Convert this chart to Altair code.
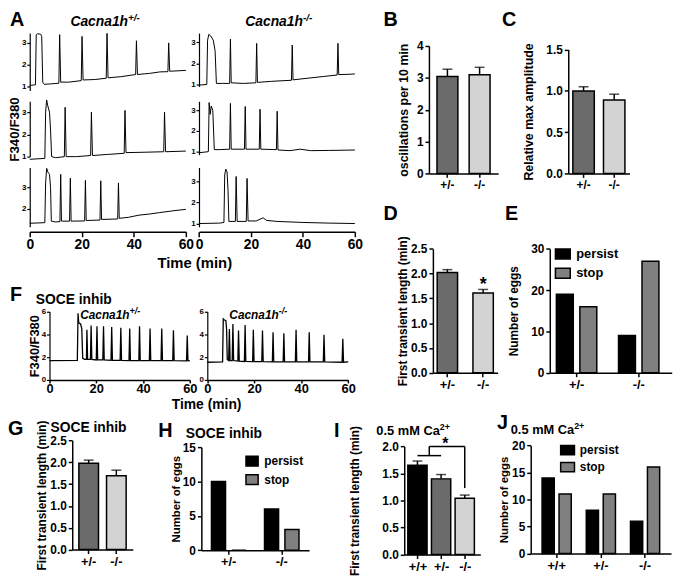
import altair as alt
import pandas as pd

FONT = "Liberation Sans"
BLACK = "black"
DARK = "#6b6b6b"
LIGHT = "#d3d3d3"
STOPC = "#808080"
W_VIEW, H_VIEW = 673, 568

TIME_TICKS = [0, 20, 40, 60]
GENO2 = ["+/-", "-/-"]
GENO3 = ["+/+", "+/-", "-/-"]
OUTCOMES = ["persist", "stop"]

# ---------- A: F340/F380 traces, [time (min), ratio] ----------
A_HET_1 = [[0, 1.05], [2.2, 1.08], [2.5, 3.38], [3.0, 3.42], [4.2, 3.4], [4.6, 3.3], [5.0, 1.2], [5.6, 1.1],
           [8, 1.12], [11.2, 1.15], [11.5, 3.38], [11.9, 1.2], [15, 1.2], [19.8, 1.27], [20.1, 3.3], [20.5, 1.3],
           [25, 1.32], [29.4, 1.38], [29.7, 3.44], [30.1, 1.4], [35, 1.45], [40.7, 1.55], [41.0, 3.1], [41.4, 1.55],
           [44, 1.58], [46, 1.6], [50, 1.67], [53.1, 1.68], [53.4, 3.0], [53.8, 1.7], [57, 1.72], [60, 1.74]]
A_HET_2 = [[0, 0.88], [5.8, 0.92], [6.1, 3.0], [6.5, 3.55], [6.9, 3.3], [7.6, 3.0], [8.0, 2.2], [8.4, 1.0],
           [10, 0.95], [13.3, 1.0], [13.6, 3.22], [14.0, 1.0], [18, 1.0], [23.4, 1.05], [23.7, 3.0], [24.1, 1.05],
           [30, 1.1], [36.3, 1.15], [36.6, 3.08], [37.0, 1.18], [45, 1.2], [51.5, 1.22], [51.8, 3.0], [52.2, 1.22],
           [60, 1.25]]
A_HET_3 = [[0, 1.32], [5.8, 1.35], [6.1, 3.2], [6.5, 3.88], [7.0, 3.7], [7.6, 3.6], [8.0, 3.0], [8.3, 1.42],
           [10, 1.38], [11.6, 1.4], [11.9, 3.6], [12.2, 1.42], [15.3, 1.42], [15.6, 3.42], [15.9, 1.42],
           [21.1, 1.43], [21.4, 3.32], [21.7, 1.45], [27.0, 1.47], [27.3, 3.3], [27.6, 1.5], [33.8, 1.52],
           [34.1, 3.2], [34.4, 1.55], [38, 1.6], [42, 1.7], [46, 1.75], [50, 1.82], [55, 1.9], [60, 1.97]]
A_KO_1 = [[0, 0.97], [3.0, 1.0], [3.3, 3.1], [3.8, 3.38], [4.5, 3.3], [5.5, 3.1], [6.2, 2.6], [6.7, 1.05],
          [9, 1.05], [11.8, 1.05], [12.1, 3.15], [12.4, 1.08], [17, 1.05], [21.9, 1.08], [22.2, 2.95], [22.5, 1.1],
          [28, 1.15], [35.6, 1.2], [35.9, 2.87], [36.2, 1.22], [42, 1.3], [48, 1.38], [53.2, 1.45], [53.5, 2.95],
          [53.8, 1.47], [57, 1.48], [60, 1.5]]
A_KO_2 = [[0, 0.95], [3.6, 1.0], [3.9, 3.37], [4.3, 2.8], [4.7, 3.2], [5.3, 3.0], [5.9, 1.1], [8, 1.1],
          [11.8, 1.12], [12.1, 3.33], [12.4, 1.12], [17.5, 1.12], [17.8, 3.18], [18.1, 1.12], [23.2, 1.12],
          [23.5, 3.05], [23.8, 1.12], [29.8, 1.1], [30.1, 2.95], [30.4, 1.08], [35, 1.05], [39, 1.12], [43, 1.05],
          [50, 1.06], [60, 1.08]]
A_KO_3 = [[0, 1.0], [8, 1.02], [9.6, 1.05], [9.9, 3.3], [10.3, 3.58], [10.8, 3.45], [11.2, 2.5], [11.5, 1.1],
          [14.0, 1.1], [14.3, 3.23], [14.7, 1.1], [18.2, 1.1], [18.5, 3.14], [18.9, 1.12], [22, 1.12],
          [24.7, 1.27], [26, 1.15], [30, 1.1], [40, 1.05], [50, 1.02], [60, 1.0]]

# ---------- F: SOCE inhibition traces ----------
F_HET = [[0, 1.7], [11.9, 1.72], [12.2, 5.85], [12.5, 5.0], [13.3, 4.9], [13.8, 4.5], [14.2, 1.9], [15.0, 1.8],
         [15.8, 1.8], [16.0, 4.4], [16.3, 1.8], [17.5, 1.8], [17.8, 4.78], [18.1, 1.8], [20.0, 1.75], [20.3, 4.7],
         [20.6, 1.75], [22.8, 1.75], [23.1, 4.7], [23.4, 1.75], [26.3, 1.72], [26.6, 4.64], [26.9, 1.72],
         [30.2, 1.72], [30.5, 4.58], [30.8, 1.72], [34.0, 1.7], [34.3, 4.5], [34.6, 1.7], [38.2, 1.7], [38.5, 4.7],
         [38.8, 1.7], [42.7, 1.7], [43.0, 4.5], [43.3, 1.7], [47.7, 1.7], [48.0, 4.5], [48.3, 1.7], [52.7, 1.7],
         [53.0, 4.35], [53.3, 1.7], [58.6, 1.68], [58.9, 3.9], [59.2, 1.68], [60, 1.7]]
F_KO = [[0, 1.55], [6.5, 1.58], [6.8, 5.34], [7.3, 5.25], [7.9, 5.2], [8.2, 4.5], [8.5, 1.8], [9.1, 1.7],
        [9.4, 4.47], [9.7, 1.7], [10.6, 1.7], [10.9, 4.9], [11.2, 1.7], [13.0, 1.65], [13.3, 4.33], [13.6, 1.65],
        [15.8, 1.62], [16.1, 4.82], [16.4, 1.62], [19.3, 1.6], [19.6, 4.39], [19.9, 1.6], [23.2, 1.6], [23.5, 4.33],
        [23.8, 1.6], [27.7, 1.58], [28.0, 4.18], [28.3, 1.58], [32.3, 1.58], [32.6, 4.1], [32.9, 1.58],
        [37.5, 1.58], [37.8, 4.39], [38.1, 1.58], [43.1, 1.58], [43.4, 4.18], [43.7, 1.58], [49.4, 1.58],
        [49.7, 3.95], [50.0, 1.58], [57.4, 1.55], [57.7, 3.6], [58.0, 1.55], [60, 1.58]]

# ---------- bar panels: mean and mean+SEM ----------
B_MEAN = [3.04, 3.10]
B_TOP = [3.27, 3.33]
C_MEAN = [1.00, 0.89]
C_TOP = [1.05, 0.96]
D_MEAN = [2.02, 1.61]
D_TOP = [2.08, 1.68]
D_STAR = ["-/-", 1.66]
E_PERSIST = [19, 9]
E_STOP = [16, 27]
G_MEAN = [1.98, 1.69]
G_TOP = [2.05, 1.82]
H_PERSIST = [10, 6]
H_STOP = [0, 3]
I_MEAN = [1.65, 1.40, 1.04]
I_TOP = [1.73, 1.48, 1.10]
I_BRACKET_X = [0, 0.5, 0.5, 2]
I_BRACKET_X2 = [1, 0.5, 2, 2]
I_BRACKET_Y = [1.83, 1.83, 2.0, 2.0]
I_BRACKET_Y2 = [1.83, 2.0, 2.0, 1.23]
I_STAR = [1.18, 1.96]
J_PERSIST = [14, 8, 6]
J_STOP = [11, 11, 16]


# ---------------- helpers ----------------
def note(text, X, Y, size, align="left", italic=False):
    return alt.Chart(pd.DataFrame({"s": [text]})).mark_text(
        align=align, baseline="alphabetic", fontSize=size, fontWeight="bold",
        fontStyle="italic" if italic else "normal", color=BLACK, font=FONT
    ).encode(x=alt.value(X), y=alt.value(Y), text="s:N")


def left_axis(x0, values, title=None, tsize=12, tpad=1, lsize=12, fmt=None, tick=4, width=1.5, lpad=2):
    kw = dict(orient="left", offset=-x0, values=values, title=title, titleFontSize=tsize, titlePadding=tpad,
              titleFontWeight="bold", labelFontSize=lsize, labelFontWeight="bold", tickSize=tick,
              tickWidth=width, domainWidth=width, labelPadding=lpad, grid=False)
    if fmt:
        kw["format"] = fmt
    return alt.Axis(**kw)


def bottom_axis(y_line, values=None, lsize=13, tick=4, lpad=2, expr=None):
    kw = dict(orient="bottom", offset=y_line - H_VIEW, title=None, labelAngle=0, labelFontSize=lsize,
              labelFontWeight="bold", tickSize=tick, tickWidth=1.5, domainWidth=1.5, labelPadding=lpad,
              grid=False, labelFlush=False, labelOverlap=False)
    if values is not None:
        kw["values"] = values
    if expr:
        kw["labelExpr"] = expr
    return alt.Axis(**kw)


def trace(pts, xr, yr, ydom, yticks, x_line=None, ytitle=None, tsize=14, tpad=1, lw=1.0, xtick=5, xpad=1,
          xsize=14):
    df = pd.DataFrame(pts, columns=["t", "r"])
    xa = bottom_axis(x_line, TIME_TICKS, lsize=xsize, tick=xtick, lpad=xpad) if x_line is not None else None
    ya = left_axis(xr[0], yticks, ytitle, tsize, tpad, lsize=8, tick=3, width=1.2, lpad=1, fmt="d")
    return alt.Chart(df).mark_line(color=BLACK, strokeWidth=lw).encode(
        x=alt.X("t:Q", scale=alt.Scale(domain=[0, 60], range=list(xr), nice=False), axis=xa),
        y=alt.Y("r:Q", scale=alt.Scale(domain=ydom, range=[yr[1], yr[0]], nice=False, zero=False), axis=ya))


def bar_panel(cats, means, tops, colors, xr, yr, ydom, yticks, fmt, title, pad, pi, po, tsize=12, xl=13):
    df = pd.DataFrame({"g": cats, "m": means, "e": tops})
    bars = alt.Chart(df).mark_bar(stroke=BLACK, strokeWidth=1.5).encode(
        x=alt.X("g:N", sort=cats, scale=alt.Scale(range=list(xr), paddingInner=pi, paddingOuter=po),
                axis=bottom_axis(yr[1], lsize=xl)),
        y=alt.Y("m:Q", scale=alt.Scale(domain=ydom, range=[yr[1], yr[0]], nice=False),
                axis=left_axis(xr[0], yticks, title, tsize, pad, fmt=fmt)),
        color=alt.Color("g:N", scale=alt.Scale(domain=cats, range=colors), legend=None))
    err = alt.Chart(df).mark_rule(color=BLACK, strokeWidth=1.5).encode(
        x=alt.X("g:N", sort=cats), y="m:Q", y2="e:Q")
    cap = alt.Chart(df).mark_tick(color=BLACK, thickness=1.5, size=10, orient="horizontal").encode(
        x=alt.X("g:N", sort=cats), y="e:Q")
    return [bars, err, cap]


def legend(lx, ly, wsym, hsym, fs, offset, rowpad):
    k = hsym / wsym
    path = f"M-1,-{k:.3f}H1V{k:.3f}H-1Z"
    return alt.Legend(title=None, orient="none", legendX=lx, legendY=ly, direction="vertical",
                      symbolType=path, symbolSize=wsym * wsym, symbolStrokeColor=BLACK, symbolStrokeWidth=1.5,
                      symbolOpacity=1, labelFontSize=fs, labelFontWeight="bold", labelColor=BLACK,
                      labelFont=FONT, labelOffset=offset, rowPadding=rowpad, padding=0)


def grouped_panel(groups, persist, stop, xr, yr, ydom, yticks, title, pad, pi, po, align, spi, leg, tsize=12):
    n = len(groups)
    df = pd.DataFrame({"g": groups + groups,
                       "o": [OUTCOMES[0]] * n + [OUTCOMES[1]] * n,
                       "n": persist + stop})
    return alt.Chart(df).mark_bar(stroke=BLACK, strokeWidth=1.5).encode(
        x=alt.X("g:N", sort=groups,
                scale=alt.Scale(range=list(xr), paddingInner=pi, paddingOuter=po, align=align),
                axis=bottom_axis(yr[1])),
        xOffset=alt.XOffset("o:N", sort=OUTCOMES, scale=alt.Scale(paddingInner=spi, paddingOuter=0)),
        y=alt.Y("n:Q", scale=alt.Scale(domain=ydom, range=[yr[1], yr[0]], nice=False), stack=None,
                axis=left_axis(xr[0], yticks, title, tsize, pad, fmt="d")),
        color=alt.Color("o:N", scale=alt.Scale(domain=OUTCOMES, range=[BLACK, STOPC]), legend=leg))


panels = []

# ---------------- A ----------------
XL, XR = (22, 180), (193.3, 351)
A_X_LINE = 223
panels += [
    trace(A_HET_1, XL, (22, 80), [0.82, 3.45], [1, 2, 3]),
    trace(A_KO_1, XR, (22, 76), [0.906, 3.436], [1, 2, 3]),
    trace(A_HET_2, XL, (91, 147), [1.0, 3.49], [1, 2, 3], ytitle="F340/F380", tsize=13.5, tpad=0),
    trace(A_KO_2, XR, (91, 145), [0.857, 3.43], [1, 2, 3]),
    trace(A_HET_3, XL, (158, 218), [1.157, 3.92], [2, 3], x_line=A_X_LINE),
    trace(A_KO_3, XR, (158, 218), [0.845, 3.656], [1, 2, 3], x_line=A_X_LINE),
]

# ---------------- F ----------------
F_Y = (303.7, 373)
panels += [
    trace(F_HET, (42, 184), F_Y, [0, 6], [0, 2, 4, 6], x_line=F_Y[1], ytitle="F340/F380", tsize=13,
          tpad=0, lw=1.3, xtick=3, xpad=0, xsize=13),
    trace(F_KO, (201.7, 344.3), F_Y, [0, 6], [0, 2, 4, 6], x_line=F_Y[1], lw=1.3, xtick=3, xpad=0, xsize=13),
]

# ---------------- B, C, D, E ----------------
panels.append(alt.layer(*bar_panel(GENO2, B_MEAN, B_TOP, [DARK, LIGHT], (426, 496), (35, 164), [0, 4],
                                   [0, 1, 2, 3, 4], "d", "oscillations per 10 min", 6.3, 0.35, 0.25,
                                   tsize=12.5, xl=12)))
panels.append(alt.layer(*bar_panel(GENO2, C_MEAN, C_TOP, [DARK, LIGHT], (567, 629), (38.7, 164), [0, 1.5],
                                   [0, 0.5, 1.0, 1.5], ".1f", "Relative max amplitude", 11, 0.3, 0.15,
                                   tsize=12.5, xl=12)))
d_star = alt.Chart(pd.DataFrame({"g": [D_STAR[0]], "v": [D_STAR[1]], "s": ["*"]})).mark_text(
    fontSize=18, fontWeight="bold", baseline="alphabetic", color=BLACK, font=FONT).encode(
    x=alt.X("g:N", sort=GENO2), y="v:Q", text="s:N")
panels.append(alt.layer(*bar_panel(GENO2, D_MEAN, D_TOP, [DARK, LIGHT], (430, 495.5), (240.3, 365.7),
                                   [0, 2.5], [0, 0.5, 1.0, 1.5, 2.0, 2.5], ".1f",
                                   "First transient length (min)", 1, 0.43, 0.12), d_star))
panels.append(grouped_panel(GENO2, E_PERSIST, E_STOP, (548.3, 671.7), (240.3, 365.7), [0, 30], [0, 10, 20, 30],
                            "Number of eggs", 10.4, 0.35, 0.156, 0.34, 0.28, legend(553, 237, 15, 10, 13, 5, 2.5)))

# ---------------- G, H, I, J ----------------
panels.append(alt.layer(*bar_panel(GENO2, G_MEAN, G_TOP, [DARK, LIGHT], (65, 126.3), (434.3, 544.7), [0, 2.5],
                                   [0, 0.5, 1.0, 1.5, 2.0, 2.5], ".1f", "First transient length (min)", 1,
                                   0.29, 0.24)))
panels.append(grouped_panel(GENO2, H_PERSIST, H_STOP, (195.7, 304.7), (441, 545.3), [0, 15], [0, 5, 10, 15],
                            "Number of eggs", 1, 0.35, 0.19, 0.5, 0.31, legend(240, 448.2, 12.3, 10, 12, 5.4, 2.7),
                            tsize=11.5))

I_X, I_Y = (401, 478), (440.3, 549.7)
I_POS = list(range(len(GENO3)))
i_df = pd.DataFrame({"p": I_POS, "g": GENO3, "m": I_MEAN, "e": I_TOP})
i_expr = "[" + ",".join(f"'{g}'" for g in GENO3) + "][datum.value]"
i_bars = alt.Chart(i_df).mark_bar(size=19.5, stroke=BLACK, strokeWidth=1.5, orient="vertical").encode(
    x=alt.X("p:Q", scale=alt.Scale(domain=[-0.35, 2.45], range=list(I_X), nice=False, zero=False),
            axis=bottom_axis(I_Y[1], values=I_POS, expr=i_expr)),
    y=alt.Y("m:Q", scale=alt.Scale(domain=[0, 2.0], range=[I_Y[1], I_Y[0]], nice=False), stack=None,
            axis=left_axis(I_X[0], [0, 0.5, 1.0, 1.5, 2.0], "First transient length (min)", 12, 21, fmt=".1f")),
    color=alt.Color("g:N", scale=alt.Scale(domain=GENO3, range=[BLACK, DARK, LIGHT]), legend=None))
i_err = alt.Chart(i_df).mark_rule(color=BLACK, strokeWidth=1.5).encode(x="p:Q", y="m:Q", y2="e:Q")
i_cap = alt.Chart(i_df).mark_tick(color=BLACK, thickness=1.5, size=10, orient="horizontal").encode(
    x="p:Q", y="e:Q")
i_br = alt.Chart(pd.DataFrame({"x": I_BRACKET_X, "x2": I_BRACKET_X2, "y": I_BRACKET_Y,
                               "y2": I_BRACKET_Y2})).mark_rule(color=BLACK, strokeWidth=1.5).encode(
    x="x:Q", x2="x2:Q", y="y:Q", y2="y2:Q")
i_star = alt.Chart(pd.DataFrame({"x": [I_STAR[0]], "y": [I_STAR[1]], "s": ["*"]})).mark_text(
    fontSize=16, fontWeight="bold", baseline="alphabetic", color=BLACK, font=FONT).encode(
    x="x:Q", y="y:Q", text="s:N")
panels.append(alt.layer(i_bars, i_err, i_cap, i_br, i_star))

panels.append(grouped_panel(GENO3, J_PERSIST, J_STOP, (529, 671), (439.3, 548.7), [0, 20], [0, 5, 10, 15, 20],
                            "Number of eggs", 2, 0.34, 0.257, 0.5, 0.28, legend(558.3, 436, 14, 9.4, 12, 4.4, 1.2),
                            tsize=11.5))

# ---------------- text annotations (panel letters, titles) ----------------
notes = [
    note("A", 2, 15, 20),
    note("Cacna1h", 121.5, 15, 14, align="right", italic=True),
    note("+/-", 121.5, 10, 10, italic=True),
    note("Cacna1h", 298.5, 15, 14, align="right", italic=True),
    note("-/-", 298.5, 10, 10, italic=True),
    note("Time (min)", 189, 260, 15, align="center"),
    note("F", 2, 293, 20),
    note("SOCE inhib", 28, 296, 14),
    note("Cacna1h", 123, 311, 12, align="right", italic=True),
    note("+/-", 123, 306.5, 9, italic=True),
    note("Cacna1h", 274, 311, 12, align="right", italic=True),
    note("-/-", 274, 306.5, 9, italic=True),
    note("Time (min)", 201, 402.5, 14, align="center"),
    note("B", 380, 15, 20),
    note("C", 500, 15, 20),
    note("D", 380, 211, 20),
    note("E", 503, 211, 20),
    note("G", 0, 429, 20),
    note("SOCE inhib", 43, 426, 14),
    note("H", 152, 431, 20),
    note("SOCE inhib", 180, 432, 14),
    note("I", 330, 431, 20),
    note("0.5 mM Ca", 437, 429, 13, align="right"),
    note("2+", 437, 424, 9),
    note("J", 495, 423, 20),
    note("0.5 mM Ca", 573, 428, 13, align="right"),
    note("2+", 573, 423, 9),
]

chart = alt.layer(*panels, *notes).resolve_scale(
    x="independent", y="independent", color="independent", xOffset="independent"
).resolve_axis(x="independent", y="independent").resolve_legend(color="independent").properties(
    width=W_VIEW, height=H_VIEW, padding={"left": 0, "top": 0, "right": 0, "bottom": 0},
    autosize=alt.AutoSizeParams(type="none")
).configure(font=FONT).configure_view(stroke=None).configure_axis(
    grid=False, domainColor=BLACK, tickColor=BLACK, labelColor=BLACK, titleColor=BLACK,
    labelFontWeight="bold", titleFontWeight="bold", labelFont=FONT, titleFont=FONT
).configure_legend(labelFont=FONT)

chart.save("out.html", embed_options={"renderer": "svg", "actions": False})
